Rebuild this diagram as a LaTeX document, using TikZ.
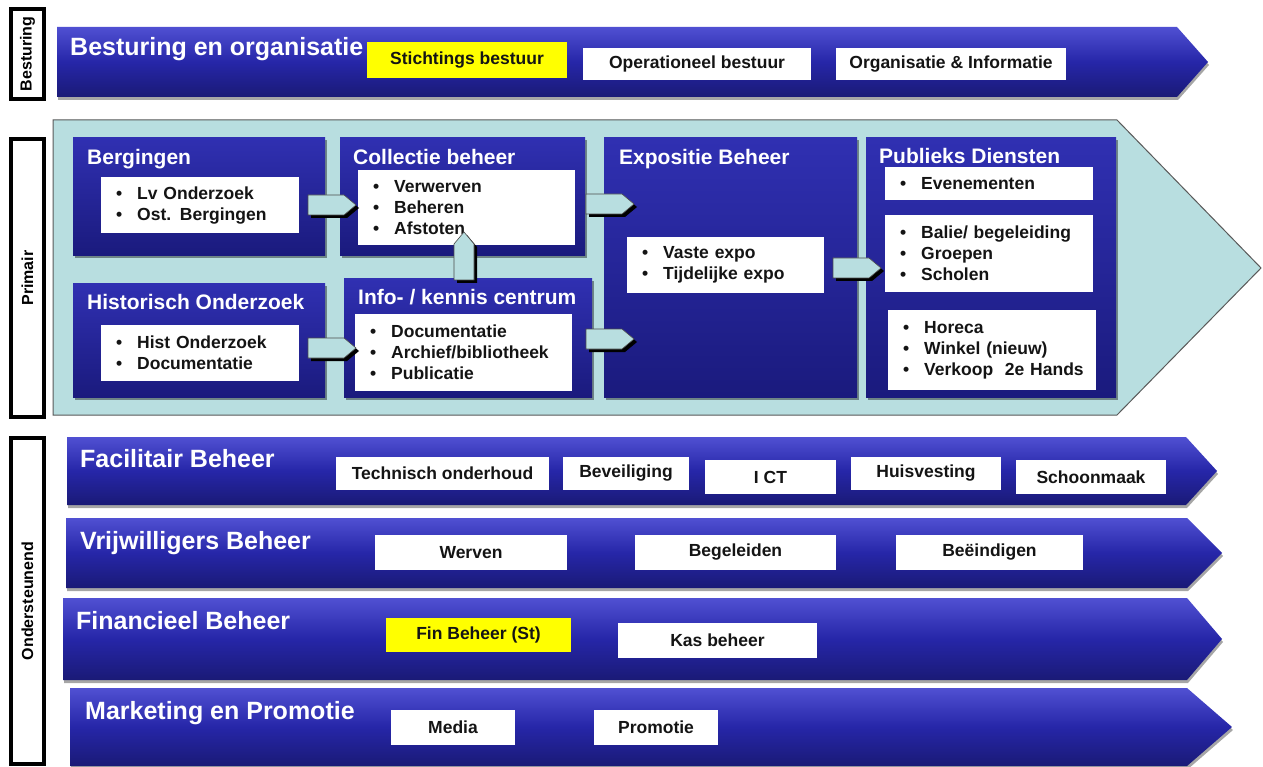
\documentclass[tikz,border=0pt]{standalone}
\usepackage{fontspec}
\setmainfont{Liberation Sans}
\usetikzlibrary{shadows}
\definecolor{bandtop}{RGB}{80,80,210}
\definecolor{bandmid}{RGB}{38,38,168}
\definecolor{bandbot}{RGB}{26,26,118}
\definecolor{boxtop}{RGB}{48,48,178}
\definecolor{boxbot}{RGB}{26,26,125}
\definecolor{tealfill}{RGB}{184,222,224}
\definecolor{hiyellow}{RGB}{255,255,0}
\definecolor{txtdark}{RGB}{20,20,20}
\newcommand\bl{\hspace*{15pt}\makebox[21pt][l]{\textbullet}}
\newcommand\rarr[2]{%
  \fill[black, shift={(#1+3,#2+3)}] (0,-10) -- (36,-10) -- (48,0) -- (36,10) -- (0,10) -- cycle;
  \filldraw[smarrow, shift={(#1,#2)}] (0,-10) -- (36,-10) -- (48,0) -- (36,10) -- (0,10) -- cycle;}
\newcommand\uarr[2]{%
  \fill[black, shift={(#1+3,#2+3)}] (-10,0) -- (-10,-36) -- (0,-48) -- (10,-36) -- (10,0) -- cycle;
  \filldraw[smarrow, shift={(#1,#2)}] (-10,0) -- (-10,-36) -- (0,-48) -- (10,-36) -- (10,0) -- cycle;}
\begin{document}
\begin{tikzpicture}[x=1pt,y=-1pt,
  band/.style={top color=bandtop, bottom color=bandbot, middle color=bandmid,
    drop shadow={shadow xshift=1pt, shadow yshift=-3pt, opacity=0.35, fill=black}},
  bandtitle/.style={text=white, font=\fontsize{25}{30}\selectfont\bfseries, inner sep=0pt},
  inbox/.style={rectangle, anchor=north west, inner sep=0pt, top color=boxtop, bottom color=boxbot,
    drop shadow={shadow xshift=2pt, shadow yshift=-3pt, opacity=0.4, fill=black}},
  boxtitle/.style={text=white, font=\fontsize{21}{25}\selectfont\bfseries, inner sep=0pt, anchor=base west},
  wlist/.style={rectangle, anchor=north west, fill=white, inner xsep=0pt, inner ysep=0pt, align=left,
    text=txtdark, font=\fontsize{17.5}{21}\selectfont\bfseries},
  wbox/.style={rectangle, fill=white, inner sep=0pt, text=txtdark, font=\fontsize{17.5}{21}\selectfont\bfseries},
  ybox/.style={wbox, fill=hiyellow},
  lbl/.style={rectangle, draw=black, line width=3.2pt, fill=white, inner sep=0pt, rotate=90,
    font=\fontsize{16}{19}\selectfont\bfseries, minimum height=33pt},
  tealarrow/.style={fill=tealfill, draw=black!65, line width=1pt},
  smarrow/.style={fill=tealfill, draw=black!70, line width=0.6pt}
]
\useasboundingbox (0,0) rectangle (1263,767);
\clip (0,0) rectangle (1263,767);
\fill[white] (0,0) rectangle (1263,767);

% ---------- Besturing band
\path[band] (57,27) -- (1177,27) -- (1208,62) -- (1177,97) -- (57,97) -- cycle;
\node[bandtitle, anchor=base west] (tbest) at (70,56) {Besturing en organisatie};
\node[ybox, minimum width=200pt, minimum height=36pt] (stich) at (467,60) {Stichtings bestuur};
\node[wbox, minimum width=228pt, minimum height=32pt] (oper) at (697,64) {Operationeel bestuur};
\node[wbox, minimum width=230pt, minimum height=32pt] (orgi) at (951,64) {Organisatie \& Informatie};

% ---------- Primair area
\path[tealarrow] (53,120) -- (1117,120) -- (1261,268) -- (1117,415) -- (53,415) -- cycle;

\node[inbox, minimum width=252pt, minimum height=118pt] (berg) at (73,137) {};
\node[inbox, minimum width=245pt, minimum height=118pt] (coll) at (340,137) {};
\node[inbox, minimum width=252pt, minimum height=114pt] (hist) at (73,283) {};
\node[inbox, minimum width=248pt, minimum height=119pt] (info) at (344,278) {};
\node[inbox, minimum width=253pt, minimum height=260pt] (expo) at (604,137) {};
\node[inbox, minimum width=250pt, minimum height=260pt] (publ) at (866,137) {};

\node[boxtitle] (bergt) at (87,165) {Bergingen};
\node[boxtitle] (collt) at (353,165) {Collectie beheer};
\node[boxtitle] (histt) at (87,309) {Historisch Onderzoek};
\node[boxtitle] (infot) at (358,304) {Info- / kennis centrum};
\node[boxtitle] (expot) at (619,165) {Expositie Beheer};
\node[boxtitle] (publt) at (879,164) {Publieks Diensten};

\node[wlist, text width=198pt, minimum height=56pt] (bergl) at (101,177) {\bl Lv Onderzoek\\\bl Ost. Bergingen};
\node[wlist, text width=217pt, minimum height=75pt] (colll) at (358,170) {\bl Verwerven\\\bl Beheren\\\bl Afstoten};
\node[wlist, text width=198pt, minimum height=56pt] (histl) at (101,325) {\bl Hist Onderzoek\\\bl Documentatie};
\node[wlist, text width=217pt, minimum height=77pt] (infol) at (355,314) {\bl Documentatie\\\bl Archief/bibliotheek\\\bl Publicatie};
\node[wlist, text width=197pt, minimum height=56pt] (expol) at (627,237) {\bl Vaste expo\\\bl Tijdelijke expo};
\node[wlist, text width=208pt, minimum height=33pt] (publa) at (885,167) {\bl Evenementen};
\node[wlist, text width=208pt, minimum height=77pt] (publb) at (885,215) {\bl Balie/ begeleiding\\\bl Groepen\\\bl Scholen};
\node[wlist, text width=208pt, minimum height=80pt] (publc) at (888,310) {\bl Horeca\\\bl Winkel (nieuw)\\\bl Verkoop\ \ 2e Hands};

% small block arrows
\rarr{308}{205}
\rarr{308}{348}
\rarr{586}{204}
\rarr{586}{339}
\rarr{833}{268}
\uarr{464}{280}

% ---------- Ondersteunend bands
\path[band] (67,437) -- (1186,437) -- (1217,471) -- (1186,505) -- (67,505) -- cycle;
\node[bandtitle, anchor=base west] (tfac) at (80,467) {Facilitair Beheer};
\node[wbox, minimum width=213pt, minimum height=33pt] (tech) at (442.5,473.5) {Technisch onderhoud};
\node[wbox, minimum width=126pt, minimum height=33pt] (bev) at (626,473.5) {Beveiliging};
\node[wbox, minimum width=131pt, minimum height=34pt] (ict) at (770.5,477) {I CT};
\node[wbox, minimum width=150pt, minimum height=33pt] (huis) at (926,473.5) {Huisvesting};
\node[wbox, minimum width=150pt, minimum height=34pt] (scho) at (1091,477) {Schoonmaak};

\path[band] (66,518) -- (1187,518) -- (1222,553) -- (1187,588) -- (66,588) -- cycle;
\node[bandtitle, anchor=base west] (tvrij) at (80,549) {Vrijwilligers Beheer};
\node[wbox, minimum width=192pt, minimum height=35pt] (werv) at (471,552.5) {Werven};
\node[wbox, minimum width=201pt, minimum height=35pt] (bege) at (735.5,552.5) {Begeleiden};
\node[wbox, minimum width=187pt, minimum height=35pt] (beei) at (989.5,552.5) {Beëindigen};

\path[band] (63,598) -- (1187,598) -- (1222,639) -- (1187,680) -- (63,680) -- cycle;
\node[bandtitle, anchor=base west] (tfin) at (76,629) {Financieel Beheer};
\node[ybox, minimum width=185pt, minimum height=34pt] (finb) at (478.5,635) {Fin Beheer (St)};
\node[wbox, minimum width=199pt, minimum height=35pt] (kasb) at (717.5,640.5) {Kas beheer};

\path[band] (70,688) -- (1187,688) -- (1232,727) -- (1187,766) -- (70,766) -- cycle;
\node[bandtitle, anchor=base west] (tmark) at (85,719) {Marketing en Promotie};
\node[wbox, minimum width=124pt, minimum height=35pt] (media) at (453,727.5) {Media};
\node[wbox, minimum width=124pt, minimum height=35pt] (promo) at (656,727.5) {Promotie};

% ---------- Side labels
\node[lbl, minimum width=90pt] (lbest) at (27.5,54) {Besturing};
\node[lbl, minimum width=278pt] (lprim) at (27.5,278) {Primair};
\node[lbl, minimum width=326pt] (lond) at (27.5,601) {Ondersteunend};
\end{tikzpicture}
\end{document}
